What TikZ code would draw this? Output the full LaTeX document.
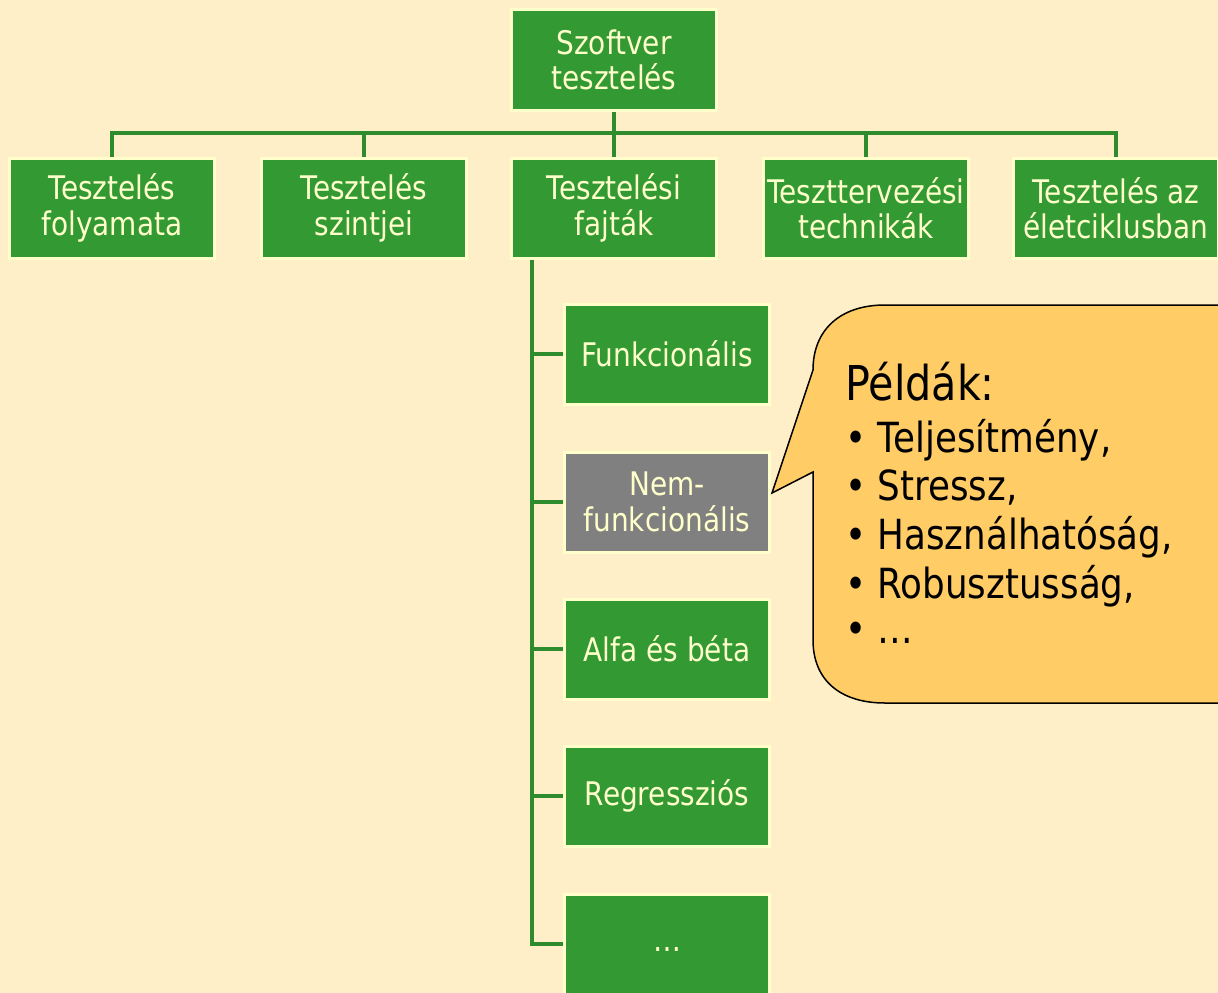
\documentclass[tikz,border=0pt]{standalone}
\usepackage{fontspec}
\setmainfont[FakeStretch=0.86]{DejaVu Sans}
\definecolor{bgcream}{RGB}{255,239,200}
\definecolor{boxgreen}{RGB}{51,153,51}
\definecolor{linegreen}{RGB}{46,139,46}
\definecolor{paleyellow}{RGB}{255,255,204}
\definecolor{boxgray}{RGB}{128,128,128}
\definecolor{calloutfill}{RGB}{255,204,102}
\begin{document}
\begin{tikzpicture}[x=1pt,y=-1pt,
  box/.style={draw=paleyellow, line width=3pt, fill=boxgreen, text=paleyellow,
    minimum width=205pt, minimum height=100pt, inner sep=2pt, align=center,
    font=\fontsize{32.5}{35.5}\selectfont},
  graybox/.style={box, fill=boxgray},
  conn/.style={draw=linegreen, line width=4.5pt},
  calltext/.style={anchor=base west, inner sep=0pt, font=\fontsize{41.5}{48}\selectfont}]
% page background
\fill[bgcream] (0,0) rectangle (1218,993);
\useasboundingbox (0,0) rectangle (1218,993);

% root and first level
\node[box, minimum height=101pt] (root) at (614,60) {Szoftver\\tesztelés};
\node[box] (folyamata) at (112,208) {Tesztelés\\folyamata};
\node[box] (szintjei) at (364,208) {Tesztelés\\szintjei};
\node[box] (fajtak) at (614,208) {Tesztelési\\fajták};
\node[box] (technikak) at (866,208) {Teszttervezési\\technikák};
\node[box] (eletciklus) at (1116,208) {Tesztelés az\\életciklusban};

% testing types
\node[box] (funk) at (667,354) {Funkcionális};
\node[graybox] (nemfunk) at (667,502) {Nem-\\funkcionális};
\node[box] (alfa) at (667,649) {Alfa és béta};
\node[box] (regr) at (667,796) {Regressziós};
\node[box] (tovabb) at (667,944) {\raisebox{-14pt}{…}};

% tree connectors
\coordinate (bus) at (0,133);
\draw[conn] (root.south) -- (fajtak.north);
\draw[conn] (folyamata.north) -- (folyamata.north |- bus) -- (eletciklus.north |- bus) -- (eletciklus.north);
\draw[conn] (szintjei.north) -- (szintjei.north |- bus);
\draw[conn] (technikak.north) -- (technikak.north |- bus);

\coordinate (spine) at (532,0);
\draw[conn] (fajtak.south -| spine) -- (tovabb.west -| spine) -- (tovabb.west);
\foreach \n in {funk,nemfunk,alfa,regr}
  \draw[conn] (\n.west -| spine) -- (\n.west);

% speech bubble with examples
\coordinate (tip) at (772,493);
\draw[fill=calloutfill, line width=1.5pt, line join=miter]
  (813,370) .. controls (813,330) and (840,305) .. (885,305) -- (1240,305)
  -- (1240,703) -- (885,703) .. controls (840,703) and (813,680) .. (813,640)
  -- (813,472) -- (tip) -- cycle;
\node[calltext, font=\fontsize{48}{48}\selectfont] (peldak) at (845,400) {Példák:};
\node[calltext] (p1) at (845,452) {• Teljesítmény,};
\node[calltext] (p2) at (845,500) {• Stressz,};
\node[calltext] (p3) at (845,549) {• Használhatóság,};
\node[calltext] (p4) at (845,598) {• Robusztusság,};
\node[calltext] (p5) at (845,643) {• …};
\end{tikzpicture}
\end{document}
